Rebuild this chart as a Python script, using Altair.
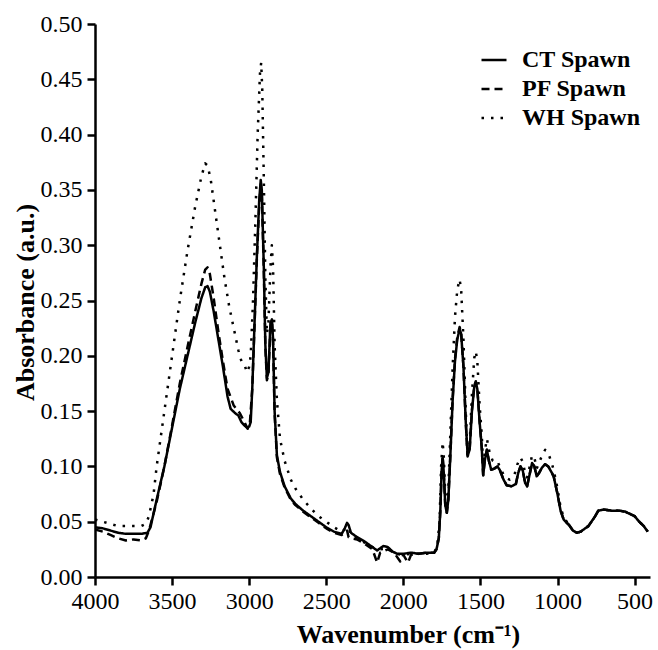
import altair as alt
import pandas as pd

# ---- CT Spawn (solid) ----
ct_wn = [4000, 3950, 3900, 3850, 3800, 3750, 3700, 3660, 3640, 3600, 3550, 3500, 3450, 3400, 3350,
         3310, 3285, 3270, 3255, 3230, 3200, 3170, 3140, 3120, 3090, 3070, 3050, 3030, 3015, 3000,
         2990, 2980, 2965, 2950, 2935, 2925, 2918, 2905, 2895, 2885, 2875, 2862, 2852, 2845, 2835,
         2820, 2800, 2770, 2730, 2700, 2650, 2600, 2550, 2500, 2450, 2400, 2380, 2365, 2355, 2340,
         2300, 2250, 2200, 2170, 2150, 2130, 2100, 2070, 2040, 2000, 1950, 1900, 1850, 1800, 1785,
         1770, 1760, 1752, 1745, 1738, 1728, 1718, 1708, 1695, 1680, 1665, 1650, 1635, 1625, 1610,
         1595, 1583, 1570, 1555, 1540, 1530, 1520, 1505, 1492, 1482, 1472, 1458, 1445, 1430, 1410,
         1390, 1375, 1350, 1330, 1300, 1270, 1255, 1240, 1225, 1210, 1197, 1185, 1165, 1150, 1135,
         1120, 1100, 1080, 1060, 1040, 1025, 1000, 980, 960, 940, 925, 900, 875, 850, 820,
         800, 780, 760, 735, 700, 650, 600, 560, 530, 500, 470, 440, 415]
ct_abs = [0.045, 0.044, 0.042, 0.040, 0.039, 0.039, 0.039, 0.040, 0.045, 0.070, 0.100, 0.135, 0.170, 0.200, 0.230,
          0.252, 0.262, 0.263, 0.258, 0.240, 0.215, 0.190, 0.163, 0.152, 0.148, 0.146, 0.140, 0.137, 0.135, 0.136,
          0.140, 0.170, 0.230, 0.290, 0.340, 0.359, 0.350, 0.280, 0.210, 0.180, 0.185, 0.230, 0.233, 0.215, 0.150,
          0.110, 0.095, 0.082, 0.071, 0.066, 0.060, 0.055, 0.050, 0.045, 0.041, 0.039, 0.044, 0.049, 0.047, 0.040,
          0.036, 0.032, 0.027, 0.024, 0.026, 0.028, 0.027, 0.023, 0.021, 0.021, 0.022, 0.021, 0.022, 0.022, 0.025,
          0.035, 0.060, 0.095, 0.108, 0.095, 0.065, 0.058, 0.070, 0.110, 0.160, 0.195, 0.215, 0.224, 0.220, 0.190,
          0.140, 0.110, 0.115, 0.150, 0.172, 0.176, 0.170, 0.140, 0.118, 0.092, 0.105, 0.115, 0.105, 0.097, 0.098,
          0.100, 0.097, 0.088, 0.083, 0.082, 0.084, 0.094, 0.100, 0.096, 0.085, 0.082, 0.090, 0.103, 0.100, 0.091,
          0.094, 0.099, 0.102, 0.100, 0.095, 0.091, 0.075, 0.060, 0.052, 0.049, 0.047, 0.042, 0.040, 0.041, 0.044,
          0.046, 0.050, 0.054, 0.060, 0.061, 0.060, 0.060, 0.059, 0.057, 0.055, 0.050, 0.046, 0.041]

# ---- PF Spawn (dashed) ----
pf_wn = [4000, 3950, 3900, 3850, 3800, 3750, 3700, 3670, 3650, 3600, 3550, 3500, 3450, 3400, 3350,
         3310, 3285, 3270, 3255, 3230, 3200, 3170, 3140, 3100, 3060, 3030, 3010, 2995,
         2980, 2965, 2950, 2935, 2925, 2918, 2905, 2895, 2885, 2875, 2862, 2852, 2845, 2835,
         2820, 2800, 2770, 2730, 2700, 2650, 2600, 2550, 2500, 2450, 2400, 2380, 2365, 2355, 2340,
         2300, 2250, 2200, 2170, 2150, 2100, 2060, 2020, 2000, 1970, 1950, 1900, 1850, 1800, 1785,
         1770, 1760, 1752, 1745, 1738, 1728, 1718, 1708, 1695, 1680, 1665, 1650, 1635, 1625, 1610,
         1595, 1583, 1570, 1555, 1540, 1530, 1520, 1505, 1492, 1482, 1472, 1458, 1445, 1430, 1410,
         1390, 1375, 1350, 1330, 1300, 1270, 1255, 1240, 1225, 1210, 1197, 1185, 1165, 1150, 1135,
         1120, 1100, 1080, 1060, 1040, 1025, 1000, 980, 960, 940, 925, 900, 875, 850, 820,
         800, 780, 760, 735, 700, 650, 600, 560, 530, 500, 470, 440, 415]
pf_abs = [0.043, 0.041, 0.038, 0.035, 0.033, 0.034, 0.033, 0.035, 0.042, 0.068, 0.100, 0.137, 0.175, 0.208, 0.240,
          0.265, 0.278, 0.280, 0.274, 0.252, 0.222, 0.195, 0.170, 0.155, 0.148, 0.140, 0.134, 0.140,
          0.170, 0.228, 0.288, 0.336, 0.355, 0.346, 0.278, 0.208, 0.178, 0.183, 0.226, 0.230, 0.212, 0.148,
          0.108, 0.093, 0.081, 0.070, 0.065, 0.059, 0.054, 0.049, 0.044, 0.040, 0.038, 0.040, 0.042, 0.036, 0.035,
          0.034, 0.030, 0.025, 0.013, 0.022, 0.025, 0.022, 0.014, 0.020, 0.013, 0.020, 0.021, 0.022, 0.022, 0.025,
          0.035, 0.060, 0.095, 0.109, 0.095, 0.065, 0.058, 0.070, 0.110, 0.162, 0.197, 0.217, 0.226, 0.221, 0.190,
          0.140, 0.109, 0.115, 0.151, 0.173, 0.177, 0.170, 0.140, 0.118, 0.092, 0.105, 0.115, 0.105, 0.097, 0.098,
          0.100, 0.097, 0.088, 0.083, 0.082, 0.084, 0.094, 0.100, 0.096, 0.085, 0.082, 0.090, 0.103, 0.100, 0.091,
          0.094, 0.099, 0.102, 0.100, 0.095, 0.091, 0.075, 0.060, 0.052, 0.049, 0.047, 0.042, 0.040, 0.041, 0.044,
          0.046, 0.050, 0.054, 0.060, 0.061, 0.060, 0.060, 0.059, 0.057, 0.055, 0.050, 0.046, 0.041]

# ---- WH Spawn (dotted) ----
wh_wn = [4000, 3950, 3900, 3850, 3800, 3750, 3700, 3670, 3650, 3620, 3600, 3550, 3500, 3450, 3400,
         3350, 3310, 3285, 3270, 3250, 3220, 3190, 3160, 3130, 3100, 3070, 3050, 3030, 3015, 3000,
         2990, 2975, 2960, 2945, 2930, 2922, 2915, 2905, 2895, 2885, 2875, 2862, 2853, 2845, 2835,
         2820, 2800, 2770, 2730, 2700, 2650, 2600, 2550, 2500, 2450, 2400, 2370, 2355, 2340, 2300,
         2250, 2200, 2150, 2100, 2050, 2000, 1950, 1850, 1800, 1780, 1765, 1755, 1745, 1738, 1728,
         1718, 1708, 1695, 1680, 1665, 1650, 1635, 1625, 1610, 1595, 1583, 1570, 1555, 1540, 1530,
         1520, 1505, 1492, 1482, 1470, 1458, 1440, 1420, 1390, 1370, 1340, 1310, 1280, 1260, 1240,
         1225, 1210, 1197, 1180, 1165, 1150, 1135, 1120, 1100, 1080, 1060, 1040, 1025, 1000, 980,
         960, 940, 925, 900, 875, 850, 820, 800, 780, 760, 735, 700, 650, 600, 560,
         530, 500, 470, 440, 415]
wh_abs = [0.052, 0.050, 0.048, 0.046, 0.046, 0.046, 0.046, 0.048, 0.055, 0.075, 0.100, 0.150, 0.200, 0.250, 0.295,
          0.335, 0.362, 0.374, 0.372, 0.360, 0.330, 0.300, 0.270, 0.245, 0.225, 0.205, 0.195, 0.192, 0.185, 0.190,
          0.200, 0.250, 0.320, 0.400, 0.455, 0.465, 0.440, 0.360, 0.270, 0.220, 0.230, 0.280, 0.300, 0.280, 0.210,
          0.160, 0.125, 0.105, 0.088, 0.080, 0.070, 0.062, 0.055, 0.050, 0.045, 0.041, 0.044, 0.045, 0.038, 0.035,
          0.031, 0.027, 0.025, 0.026, 0.021, 0.020, 0.021, 0.021, 0.022, 0.028, 0.050, 0.100, 0.122, 0.110, 0.075,
          0.062, 0.080, 0.130, 0.190, 0.235, 0.260, 0.269, 0.260, 0.215, 0.150, 0.108, 0.120, 0.165, 0.198, 0.204,
          0.195, 0.155, 0.130, 0.100, 0.115, 0.125, 0.112, 0.105, 0.105, 0.098, 0.090, 0.088, 0.092, 0.102, 0.108,
          0.104, 0.094, 0.090, 0.100, 0.110, 0.108, 0.098, 0.103, 0.110, 0.115, 0.112, 0.104, 0.097, 0.080, 0.063,
          0.054, 0.050, 0.047, 0.042, 0.040, 0.041, 0.044, 0.046, 0.050, 0.054, 0.060, 0.061, 0.060, 0.060, 0.059,
          0.057, 0.055, 0.050, 0.046, 0.041]

series_names = ["CT Spawn", "PF Spawn", "WH Spawn"]
dash_patterns = [[1, 0], [8, 5], [2.5, 7]]
x_ticks = [4000, 3500, 3000, 2500, 2000, 1500, 1000, 500]
y_ticks = [0.0, 0.05, 0.10, 0.15, 0.20, 0.25, 0.30, 0.35, 0.40, 0.45, 0.50]

frames = []
for name, wn, ab in zip(series_names, [ct_wn, pf_wn, wh_wn], [ct_abs, pf_abs, wh_abs]):
    frames.append(pd.DataFrame({"wavenumber": wn, "absorbance": ab, "series": name}))
df = pd.concat(frames, ignore_index=True)

FONT = "Liberation Serif"

chart = alt.Chart(df).mark_line(
    color="black", strokeWidth=2.5, strokeJoin="round", clip=True
).encode(
    x=alt.X("wavenumber:Q",
            scale=alt.Scale(domain=[400, 4000], reverse=True, nice=False, zero=False),
            axis=alt.Axis(values=x_ticks, format="d", title="Wavenumber (cm⁻¹)",
                          titleX=313, titleY=65, titleAlign="center", titleBaseline="alphabetic",
                          labelPadding=4, labelFlush=False)),
    y=alt.Y("absorbance:Q",
            scale=alt.Scale(domain=[0, 0.5], nice=False, zero=True),
            axis=alt.Axis(values=y_ticks, format=".2f", title="Absorbance (a.u.)",
                          titleX=-70, titleY=278, titleAlign="center", titleBaseline="middle",
                          labelPadding=5, labelFlush=False)),
    strokeDash=alt.StrokeDash(
        "series:N",
        title=None,
        scale=alt.Scale(domain=series_names, range=dash_patterns),
        legend=alt.Legend(orient="none", legendX=385, legendY=22, direction="vertical",
                          labelFont=FONT, labelFontSize=24, labelFontWeight="bold",
                          labelColor="black", symbolType="stroke", symbolStrokeWidth=2.5,
                          symbolSize=625, symbolStrokeColor="black", labelOffset=14,
                          rowPadding=3, padding=0),
    ),
).properties(
    width=555,
    height=553,
    background="white",
    padding={"left": 95, "top": 24, "right": 8, "bottom": 73},
    autosize=alt.AutoSizeParams(type="none"),
).configure_view(
    stroke=None
).configure_axis(
    grid=False,
    domainColor="black", domainWidth=2.5,
    tickColor="black", tickWidth=2.5, tickSize=8,
    labelFont=FONT, labelFontSize=24, labelColor="black",
    titleFont=FONT, titleFontSize=26, titleFontWeight="bold", titleColor="black",
)

chart.save("out.html", embed_options={"renderer": "svg", "actions": False})
